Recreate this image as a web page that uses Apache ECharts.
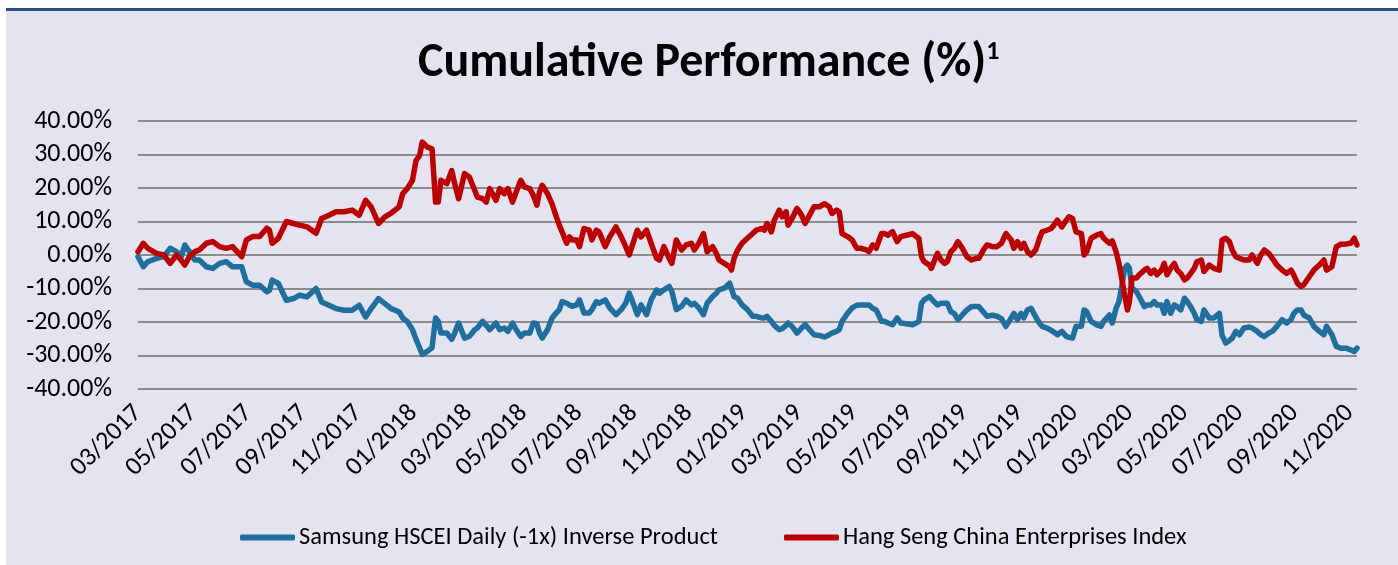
<!DOCTYPE html>
<html>
<head>
<meta charset="utf-8">
<script src="https://cdn.jsdelivr.net/npm/echarts@6/dist/echarts.min.js"></script>
<style>
html,body{margin:0;padding:0;background:#ffffff;}
#chart{width:1398px;height:565px;}
</style>
</head>
<body>
<div id="chart"></div>
<script>
// ---- Data (cumulative performance, %) ----
const seriesNames = ['Samsung HSCEI Daily (-1x) Inverse Product', 'Hang Seng China Enterprises Index'];
const yTickValues = [-40, -30, -20, -10, 0, 10, 20, 30, 40];

const dates = [
'2017-03-01','2017-03-07','2017-03-12','2017-03-22','2017-03-30','2017-04-06','2017-04-13','2017-04-18','2017-04-22','2017-04-27',
'2017-05-03','2017-05-08','2017-05-16','2017-05-23','2017-05-31','2017-06-07','2017-06-14','2017-06-24','2017-06-29','2017-07-06',
'2017-07-14','2017-07-22','2017-07-25','2017-07-28','2017-08-04','2017-08-13','2017-08-21','2017-08-28','2017-09-05','2017-09-15',
'2017-09-21','2017-09-29','2017-10-07','2017-10-16','2017-10-25','2017-11-02','2017-11-09','2017-11-15','2017-11-23','2017-11-30',
'2017-12-07','2017-12-16','2017-12-20','2017-12-25','2017-12-31','2018-01-04','2018-01-08','2018-01-11','2018-01-17','2018-01-22',
'2018-01-26','2018-01-29','2018-02-01','2018-02-07','2018-02-12','2018-02-15','2018-02-19','2018-02-25','2018-03-02','2018-03-08',
'2018-03-11','2018-03-17','2018-03-21','2018-03-25','2018-04-01','2018-04-05','2018-04-10','2018-04-14','2018-04-19','2018-04-23',
'2018-04-28','2018-05-02','2018-05-08','2018-05-12','2018-05-16','2018-05-19','2018-05-22','2018-05-28','2018-06-02','2018-06-06',
'2018-06-10','2018-06-13','2018-06-18','2018-06-21','2018-06-24','2018-06-29','2018-07-02','2018-07-07','2018-07-13','2018-07-16',
'2018-07-21','2018-07-24','2018-07-31','2018-08-05','2018-08-12','2018-08-18','2018-08-23','2018-08-27','2018-08-30','2018-09-05',
'2018-09-09','2018-09-15','2018-09-20','2018-09-26','2018-09-29','2018-10-04','2018-10-10','2018-10-13','2018-10-18','2018-10-24',
'2018-10-29','2018-11-04','2018-11-07','2018-11-12','2018-11-17','2018-11-21','2018-11-27','2018-12-01','2018-12-04','2018-12-10',
'2018-12-16','2018-12-18','2018-12-21','2018-12-25','2018-12-30','2019-01-05','2019-01-11','2019-01-15','2019-01-21','2019-01-24',
'2019-01-27','2019-02-01','2019-02-04','2019-02-09','2019-02-12','2019-02-16','2019-02-18','2019-02-22','2019-02-27','2019-03-04',
'2019-03-08','2019-03-13','2019-03-18','2019-03-24','2019-03-30','2019-04-04','2019-04-07','2019-04-12','2019-04-15','2019-04-18',
'2019-04-24','2019-04-29','2019-05-04','2019-05-09','2019-05-15','2019-05-18','2019-05-22','2019-05-26','2019-06-01','2019-06-04',
'2019-06-08','2019-06-13','2019-06-18','2019-06-22','2019-06-28','2019-07-05','2019-07-09','2019-07-12','2019-07-15','2019-07-18',
'2019-07-24','2019-07-26','2019-07-29','2019-08-02','2019-08-06','2019-08-10','2019-08-13','2019-08-17','2019-08-21','2019-08-25',
'2019-08-30','2019-09-04','2019-09-09','2019-09-14','2019-09-17','2019-09-22','2019-09-26','2019-10-02','2019-10-07','2019-10-12',
'2019-10-17','2019-10-23','2019-10-26','2019-10-30','2019-11-03','2019-11-06','2019-11-10','2019-11-14','2019-11-19','2019-11-23',
'2019-11-26','2019-12-01','2019-12-06','2019-12-09','2019-12-13','2019-12-18','2019-12-23','2019-12-26','2019-12-30','2020-01-03',
'2020-01-09','2020-01-12','2020-01-15','2020-01-20','2020-01-26','2020-01-31','2020-02-03','2020-02-09','2020-02-12','2020-02-16',
'2020-02-19','2020-02-22','2020-02-25','2020-02-28','2020-03-01','2020-03-04','2020-03-09','2020-03-12','2020-03-18','2020-03-21',
'2020-03-25','2020-03-29','2020-04-01','2020-04-06','2020-04-09','2020-04-12','2020-04-16','2020-04-20','2020-04-23','2020-04-27',
'2020-05-01','2020-05-04','2020-05-08','2020-05-12','2020-05-15','2020-05-20','2020-05-23','2020-05-29','2020-06-03','2020-06-09',
'2020-06-12','2020-06-16','2020-06-20','2020-06-23','2020-06-27','2020-07-01','2020-07-06','2020-07-12','2020-07-15','2020-07-21',
'2020-07-25','2020-07-29','2020-08-03','2020-08-07','2020-08-12','2020-08-18','2020-08-23','2020-08-28','2020-08-31','2020-09-04',
'2020-09-08','2020-09-11','2020-09-17','2020-09-22','2020-09-28','2020-10-03','2020-10-06','2020-10-12','2020-10-17','2020-10-22',
'2020-10-28','2020-11-02','2020-11-06','2020-11-09'
];

const inverseProduct = [
-0.5,-3.5,-2.0,-1.0,-0.5,2.0,1.0,-0.5,3.0,1.0,
-1.5,-1.5,-3.5,-4.0,-2.5,-2.0,-3.5,-3.5,-8.0,-9.0,
-9.0,-11.0,-10.5,-7.5,-8.5,-13.5,-13.0,-12.0,-12.5,-10.0,
-14.0,-15.0,-16.0,-16.5,-16.5,-15.0,-18.5,-16.0,-13.0,-14.5,
-16.0,-17.0,-18.8,-19.8,-22.3,-25.2,-27.7,-29.7,-28.7,-27.7,
-18.8,-19.8,-23.3,-23.3,-25.2,-23.3,-20.3,-24.8,-24.3,-22.3,
-21.8,-19.8,-21.0,-22.3,-20.3,-22.3,-21.8,-22.8,-20.3,-22.3,
-24.3,-23.3,-23.3,-20.3,-20.5,-23.3,-24.8,-22.3,-18.8,-17.5,
-16.3,-13.9,-14.4,-14.9,-15.3,-14.9,-13.4,-17.3,-17.3,-16.3,
-13.9,-14.4,-13.4,-15.8,-17.8,-16.3,-14.4,-11.4,-13.4,-17.8,
-14.9,-17.8,-13.4,-10.4,-11.4,-10.4,-9.4,-10.9,-16.3,-15.3,
-13.4,-14.9,-14.4,-15.8,-17.8,-14.4,-12.4,-11.4,-10.4,-9.9,
-8.4,-8.9,-12.4,-12.9,-14.9,-16.3,-18.3,-18.3,-18.8,-18.8,
-18.3,-19.8,-21.0,-22.3,-22.0,-21.0,-20.3,-21.3,-23.3,-21.8,
-20.8,-22.3,-23.8,-24.0,-24.5,-23.8,-23.3,-22.8,-22.3,-19.8,
-17.4,-15.8,-15.0,-14.9,-14.9,-14.9,-15.9,-16.4,-19.8,-19.8,
-20.3,-20.8,-18.8,-20.3,-20.5,-20.8,-20.3,-19.8,-14.4,-13.4,
-12.4,-12.4,-13.9,-14.9,-14.4,-14.4,-14.4,-16.9,-17.5,-19.3,
-17.9,-16.4,-15.4,-15.4,-15.4,-17.0,-18.3,-18.0,-18.3,-19.0,
-21.3,-18.8,-17.4,-19.3,-17.4,-18.8,-16.4,-15.9,-18.5,-20.3,
-21.3,-21.8,-22.5,-23.0,-23.8,-22.8,-24.3,-24.6,-24.8,-21.3,
-21.3,-16.4,-16.9,-19.8,-20.8,-21.3,-19.8,-17.9,-20.3,-15.9,
-13.9,-9.4,-4.0,-3.0,-4.0,-9.9,-10.9,-12.4,-15.4,-14.9,
-14.9,-13.9,-14.9,-14.9,-17.4,-13.9,-17.4,-14.9,-15.4,-16.4,
-12.9,-13.9,-15.4,-17.4,-19.3,-19.8,-16.4,-18.8,-18.8,-17.4,
-24.0,-26.3,-25.5,-24.8,-22.8,-23.8,-21.8,-21.5,-21.8,-22.8,
-23.8,-24.3,-23.3,-22.8,-21.3,-19.3,-20.3,-19.3,-17.5,-16.4,
-16.4,-17.9,-18.8,-21.3,-22.8,-23.8,-21.3,-23.8,-27.3,-27.8,
-27.8,-28.3,-28.8,-27.8
];

const hscei = [
1.0,3.5,2.0,0.5,0.0,-2.5,0.0,-1.5,-3.0,-0.5,
1.0,1.5,3.5,4.0,2.5,2.0,2.5,-0.5,4.5,5.5,
5.5,8.0,7.4,3.5,5.0,10.0,9.4,8.9,8.4,6.5,
10.9,11.9,12.9,12.9,13.4,11.9,16.3,14.4,9.4,11.4,
12.5,14.4,18.3,19.8,22.3,28.2,29.7,33.7,32.2,31.7,
15.8,15.8,22.3,21.3,25.2,21.3,16.8,24.3,23.3,19.3,
17.3,16.8,15.8,19.8,16.3,19.8,18.3,19.8,15.8,18.8,
22.3,20.3,19.8,17.8,14.9,18.8,20.8,18.3,15.3,12.0,
8.9,6.9,3.5,5.4,4.5,4.5,2.5,7.9,7.4,4.5,
7.4,6.9,2.5,5.4,8.4,5.4,2.5,0.0,2.5,7.4,
5.4,7.4,3.5,-1.0,-1.5,2.5,-1.0,-2.5,4.5,1.5,
3.0,3.5,1.5,3.5,6.4,1.0,2.5,0.5,-1.5,-2.5,
-3.5,-4.5,-1.0,1.5,3.5,5.0,6.4,7.4,7.9,7.4,
9.4,6.9,10.4,13.4,11.4,12.9,8.9,10.9,13.9,11.9,
9.4,11.9,14.4,14.4,15.3,14.4,12.4,13.4,12.9,6.4,
5.5,4.5,2.0,2.0,1.5,1.0,3.0,2.0,6.4,6.4,
5.9,7.0,4.0,5.5,5.9,6.4,5.5,5.0,-0.5,-2.0,
-3.0,-4.0,-2.0,0.5,-1.5,-2.5,-2.0,1.0,2.0,4.0,
2.0,-0.5,-1.5,-1.0,-1.0,1.5,3.0,2.5,2.5,3.5,
6.4,4.5,2.0,4.0,2.0,3.5,1.0,0.0,1.5,4.9,
6.9,7.4,7.9,8.9,10.4,8.4,10.4,11.4,10.9,6.9,
6.4,0.0,1.0,5.0,5.9,6.4,5.0,3.5,4.2,1.0,
-2.5,-7.0,-12.0,-16.4,-14.0,-6.9,-6.9,-5.9,-4.5,-4.0,
-5.5,-4.5,-5.9,-4.5,-2.5,-5.9,-4.0,-2.5,-4.5,-5.5,
-7.4,-6.9,-5.5,-4.0,-2.0,-1.5,-4.9,-3.0,-4.0,-4.5,
4.5,5.0,4.0,1.5,-0.5,-1.0,-1.5,-1.5,0.0,-2.5,
0.0,1.5,0.5,-1.0,-3.0,-4.5,-5.5,-4.5,-5.9,-8.4,
-9.4,-8.9,-6.5,-4.5,-3.0,-1.5,-4.5,-3.5,2.5,3.2,
3.3,3.5,5.0,3.0
];

// ---- helpers ----
const START_YEAR = 2017, START_MONTH = 3;
function monthPos(d) {
  const p = d.split('-').map(Number);
  const dim = new Date(p[0], p[1], 0).getDate();
  return (p[0] - START_YEAR) * 12 + (p[1] - START_MONTH) + (p[2] - 1) / dim;
}
function monthLabel(v) {
  if (Math.abs(v - Math.round(v)) > 1e-6) return '';
  const r = Math.round(v);
  if (r % 2 !== 0) return '';
  const total = START_MONTH - 1 + r;
  const y = START_YEAR + Math.floor(total / 12);
  const m = (total % 12) + 1;
  return (m < 10 ? '0' : '') + m + '/' + y;
}
const xMax = monthPos(dates[dates.length - 1]);
const blueData = dates.map((d, i) => [monthPos(d), inverseProduct[i]]);
const redData = dates.map((d, i) => [monthPos(d), hscei[i]]);

const FONT = 'Carlito, Lato, sans-serif';
const chart = echarts.init(document.getElementById('chart'), null, {renderer: 'canvas'});
chart.setOption({
  backgroundColor: '#E4E4F1',
  animation: false,
  graphic: [
    {type: 'rect', shape: {x: 0, y: 0, width: 1398, height: 8}, style: {fill: '#ffffff'}, silent: true},
    {type: 'rect', shape: {x: 0, y: 0, width: 6, height: 565}, style: {fill: '#ffffff'}, silent: true},
    {type: 'rect', shape: {x: 6, y: 8, width: 1392, height: 3}, style: {fill: '#2F4E8C'}, silent: true}
  ],
  title: {
    text: '{t|Cumulative Performance (%)}{s|1}',
    left: 413,
    top: 31,
    textStyle: {
      rich: {
        t: {fontFamily: FONT, fontWeight: 'bold', fontSize: 48, color: '#000000', lineHeight: 56},
        s: {fontFamily: FONT, fontWeight: 'bold', fontSize: 26, color: '#000000', verticalAlign: 'top', lineHeight: 56, padding: [3, 0, 0, 0]}
      }
    }
  },
  legend: {
    data: seriesNames,
    left: 235,
    top: 520,
    itemWidth: 55,
    itemHeight: 6,
    itemGap: 66,
    icon: 'roundRect',
    textStyle: {fontFamily: FONT, fontSize: 24.5, color: '#000000', padding: [0, 0, 0, -1]}
  },
  grid: {left: 138, right: 41, top: 121, bottom: 176, containLabel: false},
  xAxis: {
    type: 'value',
    min: 0,
    max: xMax,
    interval: 2,
    axisLine: {show: false},
    axisTick: {show: false},
    splitLine: {show: false},
    axisLabel: {
      rotate: 45,
      margin: 20,
      fontFamily: FONT,
      fontSize: 26,
      color: '#000000',
      showMaxLabel: false,
      formatter: monthLabel
    }
  },
  yAxis: {
    type: 'value',
    min: yTickValues[0],
    max: yTickValues[yTickValues.length - 1],
    interval: 10,
    axisLine: {show: false},
    axisTick: {show: false},
    splitLine: {lineStyle: {color: '#8C8C8C', width: 2}},
    axisLabel: {
      margin: 26,
      fontFamily: FONT,
      fontSize: 26,
      color: '#000000',
      formatter: v => v.toFixed(2) + '%'
    }
  },
  series: [
    {
      name: seriesNames[0], type: 'line', data: blueData, showSymbol: false, symbol: 'none',
      lineStyle: {color: '#1D6FA0', width: 5.5, join: 'round', cap: 'round'},
      itemStyle: {color: '#1D6FA0'}
    },
    {
      name: seriesNames[1], type: 'line', data: redData, showSymbol: false, symbol: 'none',
      lineStyle: {color: '#C00000', width: 5.5, join: 'round', cap: 'round'},
      itemStyle: {color: '#C00000'}
    }
  ]
});
</script>
</body>
</html>
